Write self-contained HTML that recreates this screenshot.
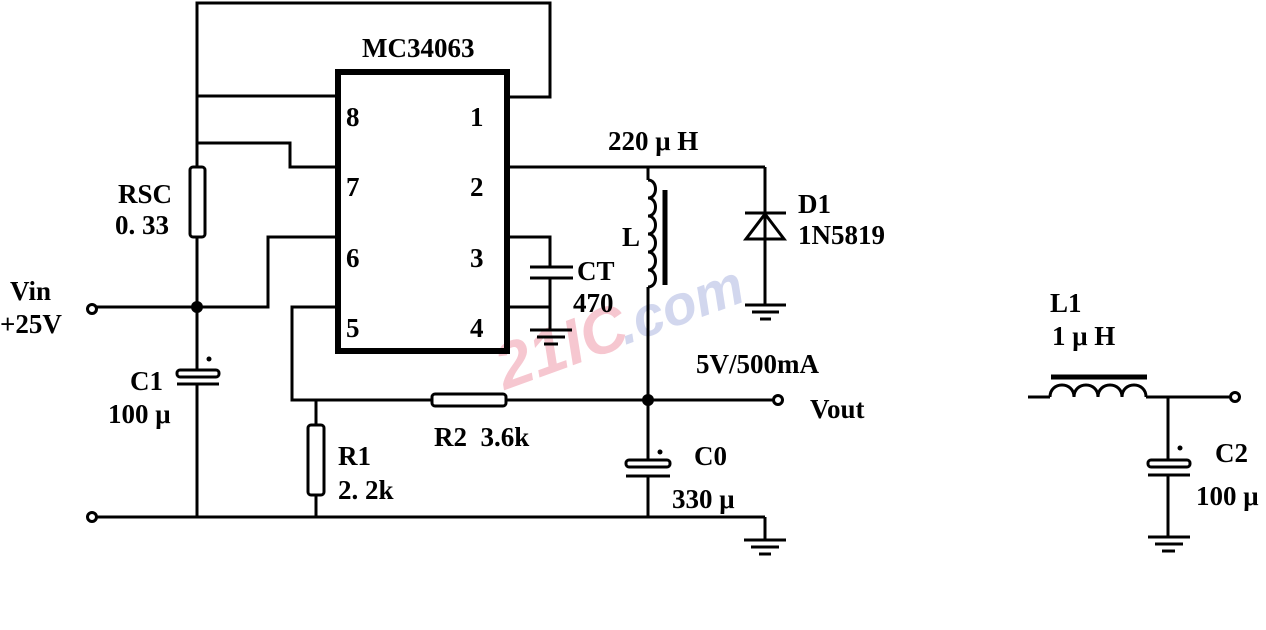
<!DOCTYPE html>
<html><head><style>
body{margin:0;background:#fff;}
svg{display:block;}
text{font-family:"Liberation Serif",serif;font-size:27px;font-weight:bold;fill:#000;}
</style></head><body>
<svg width="1266" height="630" viewBox="0 0 1266 630" xmlns="http://www.w3.org/2000/svg">
<g font-family="Liberation Sans" opacity="0.35">
<text x="505" y="390" style="font-size:64px;font-style:italic;fill:#e8607a;font-family:'Liberation Sans',sans-serif" transform="rotate(-20 505 390)">21IC</text>
<text x="625" y="345" style="font-size:56px;font-style:italic;fill:#8090d0;font-family:'Liberation Sans',sans-serif" transform="rotate(-20 625 345)">.com</text>
</g>
<g fill="none" stroke="#000" stroke-width="3">
<rect x="338" y="72" width="169" height="279" stroke-width="6"/>
<polyline points="197,96 197,3 550,3 550,97 507,97"/>
<line x1="197" y1="96" x2="338" y2="96"/>
<polyline points="197,143 290,143 290,167 338,167"/>
<line x1="197" y1="96" x2="197" y2="167"/>
<rect x="190" y="167" width="15" height="70" rx="3"/>
<line x1="197" y1="237" x2="197" y2="370"/>
<polyline points="338,237 268,237 268,307 95,307"/>
<circle cx="92" cy="309" r="4.5"/>
<rect x="177" y="370" width="42" height="7" rx="3"/>
<line x1="177" y1="384" x2="219" y2="384"/>
<line x1="197" y1="384" x2="197" y2="517"/>
<line x1="96" y1="517" x2="765" y2="517"/>
<circle cx="92" cy="517" r="4.5"/>
<polyline points="338,307 292,307 292,400 432,400"/>
<rect x="432" y="394" width="74" height="12" rx="3"/>
<line x1="506" y1="400" x2="774" y2="400"/>
<circle cx="778" cy="400" r="4.5"/>
<line x1="316" y1="400" x2="316" y2="425"/>
<rect x="308" y="425" width="16" height="70" rx="3"/>
<line x1="316" y1="495" x2="316" y2="517"/>
<line x1="507" y1="167" x2="765" y2="167"/>
<polyline points="507,237 550,237 550,267"/>
<line x1="530" y1="267" x2="573" y2="267"/>
<line x1="530" y1="278" x2="573" y2="278"/>
<line x1="550" y1="278" x2="550" y2="330"/>
<line x1="507" y1="307" x2="550" y2="307"/>
<line x1="530" y1="330" x2="572" y2="330"/>
<line x1="537" y1="337" x2="565" y2="337"/>
<line x1="544" y1="344" x2="558" y2="344"/>
<line x1="648" y1="167" x2="648" y2="180"/>
<path d="M648,180 c10,0 10,18 0,18 c10,0 10,18 0,18 c10,0 10,18 0,18 c10,0 10,18 0,18 c10,0 10,18 0,18 c10,0 10,17 0,17"/>
<line x1="648" y1="287" x2="648" y2="460"/>
<line x1="665" y1="190" x2="665" y2="285" stroke-width="5"/>
<rect x="626" y="460" width="44" height="7" rx="3"/>
<line x1="626" y1="476" x2="670" y2="476"/>
<line x1="648" y1="476" x2="648" y2="517"/>
<line x1="765" y1="517" x2="765" y2="540"/>
<line x1="744" y1="540" x2="786" y2="540"/>
<line x1="751" y1="547" x2="779" y2="547"/>
<line x1="759" y1="554" x2="771" y2="554"/>
<line x1="765" y1="167" x2="765" y2="305"/>
<line x1="745" y1="213" x2="786" y2="213"/>
<polygon points="765,214 746,239 784,239"/>
<line x1="745" y1="305" x2="786" y2="305"/>
<line x1="752" y1="312" x2="779" y2="312"/>
<line x1="760" y1="319" x2="771" y2="319"/>
<line x1="1028" y1="397" x2="1050" y2="397"/>
<path d="M1050,397 c0,-16 24,-16 24,0 c0,-16 24,-16 24,0 c0,-16 24,-16 24,0 c0,-16 24,-16 24,0"/>
<line x1="1146" y1="397" x2="1231" y2="397"/>
<circle cx="1235" cy="397" r="4.5"/>
<line x1="1051" y1="377" x2="1147" y2="377" stroke-width="5"/>
<line x1="1168" y1="397" x2="1168" y2="460"/>
<rect x="1148" y="460" width="42" height="7" rx="3"/>
<line x1="1148" y1="475" x2="1190" y2="475"/>
<line x1="1168" y1="475" x2="1168" y2="537"/>
<line x1="1148" y1="537" x2="1190" y2="537"/>
<line x1="1155" y1="544" x2="1183" y2="544"/>
<line x1="1162" y1="551" x2="1175" y2="551"/>
</g>
<g fill="#000">
<circle cx="197" cy="307" r="6"/>
<circle cx="648" cy="400" r="6"/>
<circle cx="209" cy="359" r="2.5"/><circle cx="660" cy="452" r="2.5"/><circle cx="1180" cy="448" r="2.5"/>
</g>
<text x="362" y="57">MC34063</text>
<text x="346" y="126">8</text><text x="470" y="126">1</text>
<text x="346" y="196">7</text><text x="470" y="196">2</text>
<text x="346" y="267">6</text><text x="470" y="267">3</text>
<text x="346" y="337">5</text><text x="470" y="337">4</text>
<text x="118" y="203">RSC</text>
<text x="115" y="234">0. 33</text>
<text x="10" y="300">Vin</text>
<text x="0" y="333">+25V</text>
<text x="130" y="390">C1</text>
<text x="108" y="423">100 μ</text>
<text x="608" y="150">220 μ H</text>
<text x="622" y="246">L</text>
<text x="577" y="280">CT</text>
<text x="573" y="312">470</text>
<text x="798" y="213">D1</text>
<text x="798" y="244">1N5819</text>
<text x="696" y="373">5V/500mA</text>
<text x="810" y="418">Vout</text>
<text x="434" y="446">R2&#160;&#160;3.6k</text>
<text x="338" y="465">R1</text>
<text x="338" y="499">2. 2k</text>
<text x="694" y="465">C0</text>
<text x="672" y="508">330 μ</text>
<text x="1050" y="312">L1</text>
<text x="1052" y="345">1 μ H</text>
<text x="1215" y="462">C2</text>
<text x="1196" y="505">100 μ</text>
</svg>
</body></html>
